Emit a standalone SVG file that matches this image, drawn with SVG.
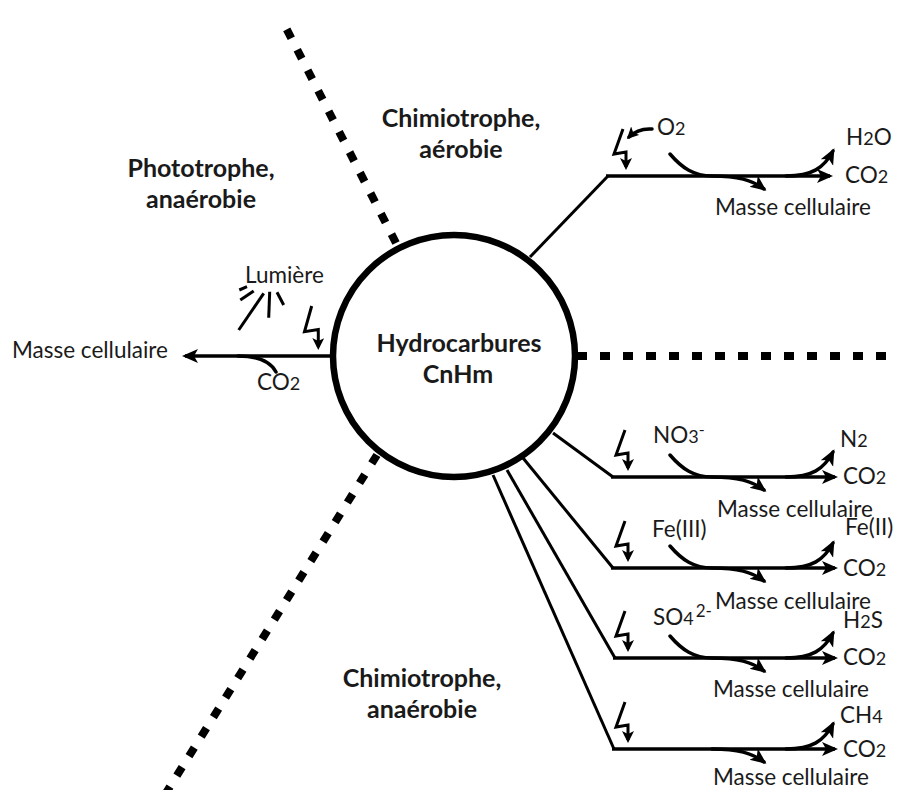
<svg xmlns="http://www.w3.org/2000/svg" width="897" height="790" viewBox="0 0 897 790">
<style>
.ln{stroke:#000;stroke-width:3;fill:none}
.hl{stroke:#000;stroke-width:3.5;fill:none}
.cv{stroke:#000;stroke-width:3.5;fill:none;stroke-linecap:round}
.lt{stroke:#000;stroke-width:3;fill:none;stroke-linejoin:miter}
.ray{stroke:#000;stroke-width:3;fill:none}
.dash{stroke:#000;stroke-width:8;fill:none;stroke-dasharray:10 13}
.t{font-family:Lato,"Liberation Sans",sans-serif;font-size:22.5px;fill:#1a1a1a}
.b{font-family:Lato,"Liberation Sans",sans-serif;font-size:25px;font-weight:bold;fill:#1a1a1a;text-anchor:middle}
.s{font-size:18px}
</style>
<defs>
<marker id="ah" markerUnits="userSpaceOnUse" markerWidth="18" markerHeight="16" refX="13" refY="8" orient="auto"><path d="M0,1 L16,8 L0,15 L4,8 z" fill="#000"/></marker>
<marker id="as" markerUnits="userSpaceOnUse" markerWidth="13" markerHeight="12" refX="9" refY="6" orient="auto"><path d="M0,0 L12,6 L0,12 L3,6 z" fill="#000"/></marker>
<path id="masse" d="M670,-22 C682,-8 694,0 712,0 C738,0 752,4 764,13" class="cv" marker-end="url(#ah)"/>
<path id="prod" d="M786,0 C812,0 824,-8 833,-25" class="cv" marker-end="url(#ah)"/>
<path id="bolt" d="M625,-47 L616,-22 L628,-24 L628,-9" class="lt" marker-end="url(#as)"/>
</defs>
<rect width="897" height="790" fill="#fff"/>

<g id="separators">
<path class="dash" d="M396,243 L282,20"/>
<path class="dash" d="M577,356 L897,356"/>
<path class="dash" d="M377,455 L166,793"/>
</g>

<g id="connectors">
<path class="hl" d="M330,356 L185,356" marker-end="url(#ah)"/>
<path class="cv" d="M238,356 Q268,356 276,372"/>
<path class="lt" d="M311.7,306 L304.5,331.7 L318.3,329.5 L318.3,347" marker-end="url(#as)"/>
<g id="rays">
<path class="ray" d="M239.3,290 L247,286.7"/>
<path class="ray" d="M240.3,300 L253.7,291"/>
<path class="ray" d="M238.7,330 L263.7,293.3"/>
<path class="ray" d="M269.7,291.7 L268.7,317.7"/>
<path class="ray" d="M277,292.3 L283.7,305"/>
</g>
<path class="ln" d="M530,257 L608,176"/>
<path class="hl" d="M606,176 L830,176" marker-end="url(#ah)"/>
<g transform="translate(-2,176)"><use href="#bolt"/></g>
<path class="cv" d="M652,129 Q638,128 629,137" marker-end="url(#as)"/>
<g transform="translate(0,176)"><use href="#masse"/><use href="#prod"/></g>
<path class="ln" d="M553,433 L613,477"/>
<path class="hl" d="M611,477 L835,477" marker-end="url(#ah)"/>
<g transform="translate(0,477)"><use href="#bolt"/><use href="#masse"/><use href="#prod"/></g>
<path class="ln" d="M523,458 L613,568"/>
<path class="hl" d="M611,568 L835,568" marker-end="url(#ah)"/>
<g transform="translate(0,568)"><use href="#bolt"/><use href="#masse"/><use href="#prod"/></g>
<path class="ln" d="M507,470 L615,658"/>
<path class="hl" d="M613,658 L835,658" marker-end="url(#ah)"/>
<g transform="translate(0,658)"><use href="#bolt"/><use href="#masse"/><use href="#prod"/></g>
<path class="ln" d="M493,475 L614,749"/>
<path class="hl" d="M612,749 L835,749" marker-end="url(#ah)"/>
<g transform="translate(0,749)"><use href="#bolt"/><use href="#prod"/>
<path class="cv" d="M712,0 C738,0 752,4 764,13" marker-end="url(#ah)"/></g>
</g>

<g id="node-hydrocarbures">
<circle cx="454" cy="356" r="121" fill="#fff" stroke="#000" stroke-width="6.5"/>
<text class="b" x="459" y="352">Hydrocarbures</text>
<text class="b" x="458" y="383">CnHm</text>
</g>

<g id="zone-labels">
<text class="b" x="461" y="127">Chimiotrophe,</text>
<text class="b" x="461" y="158">aérobie</text>
<text class="b" x="201" y="177">Phototrophe,</text>
<text class="b" x="201" y="208">anaérobie</text>
<text class="b" x="422" y="687">Chimiotrophe,</text>
<text class="b" x="422" y="718">anaérobie</text>
</g>

<g id="labels-left">
<text class="t" x="12" y="358">Masse cellulaire</text>
<text class="t" x="245" y="283">Lumière</text>
<text class="t" x="257" y="390">CO<tspan class="s">2</tspan></text>
</g>

<g id="labels-aerobic">
<text class="t" x="657" y="135">O<tspan class="s">2</tspan></text>
<text class="t" x="846" y="145">H<tspan class="s">2</tspan>O</text>
<text class="t" x="845" y="183">CO<tspan class="s">2</tspan></text>
<text class="t" x="715" y="215">Masse cellulaire</text>
</g>

<g id="labels-no3">
<text class="t" x="653" y="443">NO<tspan class="s">3</tspan><tspan font-size="16" dy="-8">-</tspan></text>
<text class="t" x="840" y="447">N<tspan class="s">2</tspan></text>
<text class="t" x="843" y="484">CO<tspan class="s">2</tspan></text>
<text class="t" x="717" y="517">Masse cellulaire</text>
</g>

<g id="labels-fe">
<text class="t" x="652" y="537">Fe(III)</text>
<text class="t" x="845" y="535">Fe(II)</text>
<text class="t" x="843" y="576">CO<tspan class="s">2</tspan></text>
<text class="t" x="715" y="609">Masse cellulaire</text>
</g>

<g id="labels-so4">
<text class="t" x="653" y="625">SO<tspan class="s">4</tspan><tspan font-size="17" dy="-8" dx="2">2-</tspan></text>
<text class="t" x="843" y="628">H<tspan class="s">2</tspan>S</text>
<text class="t" x="843" y="665">CO<tspan class="s">2</tspan></text>
<text class="t" x="713" y="697">Masse cellulaire</text>
</g>

<g id="labels-ch4">
<text class="t" x="840" y="723">CH<tspan class="s">4</tspan></text>
<text class="t" x="843" y="757">CO<tspan class="s">2</tspan></text>
<text class="t" x="713" y="785">Masse cellulaire</text>
</g>
</svg>
